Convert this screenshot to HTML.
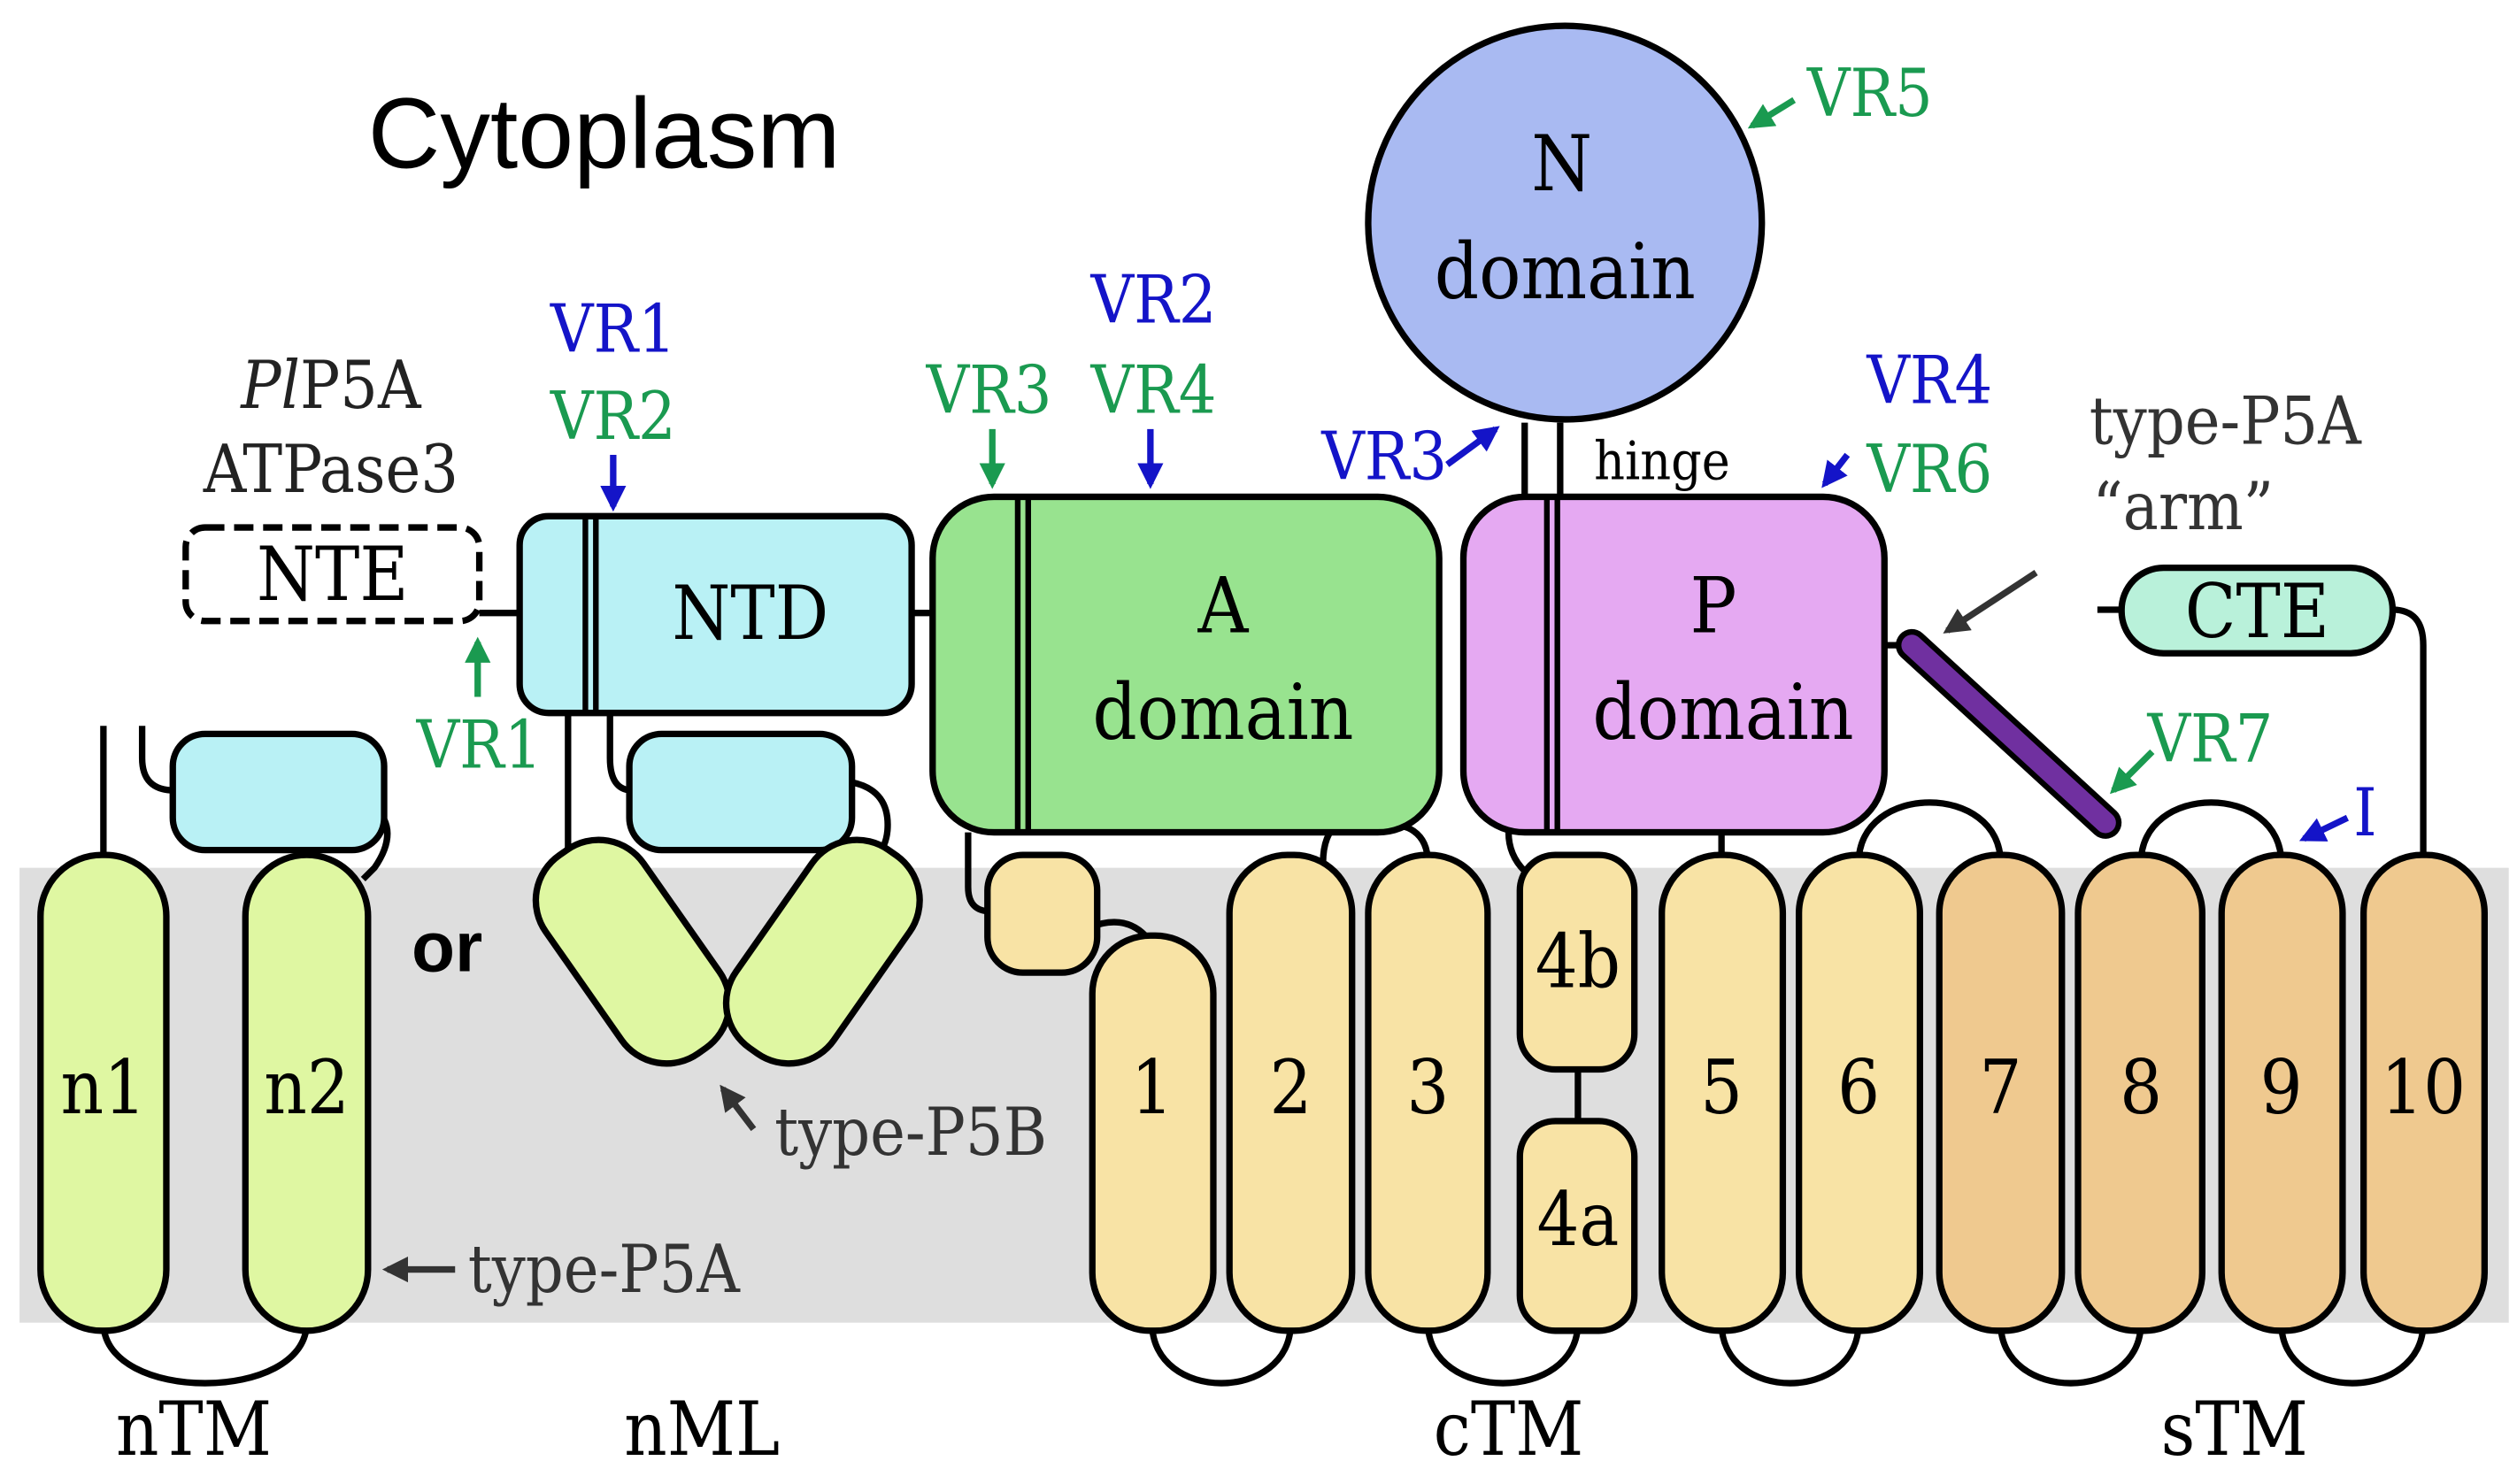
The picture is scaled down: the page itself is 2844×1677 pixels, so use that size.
<!DOCTYPE html>
<html><head><meta charset="utf-8"><style>
html,body{margin:0;padding:0;background:#fff;}
svg{display:block;}
.s{font-family:"DejaVu Serif Condensed","DejaVu Serif","Liberation Serif",serif;}
</style></head><body>
<svg width="2844" height="1677" viewBox="0 0 1560 920" xmlns="http://www.w3.org/2000/svg">
<defs>
<marker id="ab" viewBox="0 0 10 10" refX="8" refY="5" markerWidth="4" markerHeight="4" orient="auto"><path d="M0,0L10,5L0,10z" fill="#1414c8"/></marker>
<marker id="ag" viewBox="0 0 10 10" refX="8" refY="5" markerWidth="4" markerHeight="4" orient="auto"><path d="M0,0L10,5L0,10z" fill="#1a9a50"/></marker>
<marker id="ak" viewBox="0 0 10 10" refX="8" refY="5" markerWidth="4" markerHeight="4" orient="auto"><path d="M0,0L10,5L0,10z" fill="#333"/></marker>
</defs>
<rect x="12" y="538" width="1543" height="282" fill="#dedede"/>
<text x="228" y="104" font-family="Liberation Sans,sans-serif" font-size="62">Cytoplasm</text>

<g stroke="#000" stroke-width="4" fill="none">
<path d="M64,820 C64,870 190,870 190,820"/>
<path d="M714,820 C714,870 800,870 800,820"/>
<path d="M885,820 C885,870 978,870 978,820"/>
<path d="M1067,820 C1067,870 1152,870 1152,820"/>
<path d="M1240,820 C1240,870 1327,870 1327,820"/>
<path d="M1414,820 C1414,870 1502,870 1502,820"/>
<path d="M1152,535 C1152,485 1240,485 1240,535"/>
<path d="M1327,535 C1327,485 1414,485 1414,535"/>
<path d="M820,535 C820,510 835,505 840,515"/>
<path d="M885,535 C885,515 870,510 860,512"/>
<path d="M1067,535 L1067,512"/>
<path d="M64,530 L64,450"/>
<path d="M88,450 L88,470 Q88,490 108,490"/>
<path d="M232,500 Q248,515 232,538 L225,545"/>
<path d="M352,442 L352,545"/>
<path d="M378,442 L378,470 Q378,490 392,490"/>
<path d="M528,485 Q552,490 550,515 Q548,535 528,535"/>
<path d="M600,516 L600,550 Q600,565 614,565"/>
<path d="M675,575 Q700,565 714,585"/>
<path d="M935,516 Q935,530 945,540"/>
<path d="M978,663 L978,695"/>
<path d="M297,380 L322,380"/>
<path d="M565,380 L578,380"/>
<path d="M945,262 L945,310"/>
<path d="M967,262 L967,310"/>
<path d="M1168,400 L1185,400"/>
<path d="M1300,378 L1315,378"/>
<path d="M1483,378 Q1502,378 1502,400 L1502,532"/>
</g>

<g stroke="#000" stroke-width="4">
<rect x="25" y="530" width="78" height="295" rx="38" fill="#dff7a2"/>
<rect x="152" y="530" width="76" height="295" rx="38" fill="#dff7a2"/>
<rect x="107" y="455" width="131" height="72" rx="20" fill="#b9f1f5"/>
<rect x="115" y="327" width="182" height="58" rx="12" fill="#fff" stroke-dasharray="12,6"/>
<rect x="322" y="320" width="243" height="122" rx="18" fill="#b9f1f5"/>
<line x1="366" y1="320" x2="366" y2="442" stroke-width="10"/>
<line x1="366" y1="322" x2="366" y2="440" stroke="#b9f1f5" stroke-width="3"/>
<rect x="390" y="455" width="138" height="72" rx="20" fill="#b9f1f5"/>
<rect x="-37" y="-75" width="74" height="150" rx="34" fill="#dff7a2" transform="translate(392,590) rotate(-35)"/>
<rect x="-37" y="-75" width="74" height="150" rx="34" fill="#dff7a2" transform="translate(510,590) rotate(35)"/>
<rect x="578" y="308" width="314" height="208" rx="38" fill="#98e38f"/>
<line x1="634" y1="308" x2="634" y2="516" stroke-width="10"/>
<line x1="634" y1="310" x2="634" y2="514" stroke="#98e38f" stroke-width="3"/>
<rect x="907" y="308" width="261" height="208" rx="38" fill="#e5a9f2"/>
<line x1="962" y1="308" x2="962" y2="516" stroke-width="10"/>
<line x1="962" y1="310" x2="962" y2="514" stroke="#e5a9f2" stroke-width="3"/>
<circle cx="970" cy="138" r="122" fill="#a9baf2"/>
<line x1="1185" y1="400" x2="1305" y2="510" stroke-width="20" stroke-linecap="round"/>
<line x1="1185" y1="400" x2="1305" y2="510" stroke="#7030a0" stroke-width="13" stroke-linecap="round"/>
<rect x="1315" y="352" width="168" height="53" rx="26" fill="#b9f1da"/>
<rect x="612" y="530" width="68" height="73" rx="22" fill="#f8e3a5"/>
<rect x="677" y="580" width="75" height="245" rx="36" fill="#f8e3a5"/>
<rect x="762" y="530" width="76" height="295" rx="36" fill="#f8e3a5"/>
<rect x="848" y="530" width="74" height="295" rx="36" fill="#f8e3a5"/>
<rect x="942" y="530" width="71" height="133" rx="22" fill="#f8e3a5"/>
<rect x="942" y="695" width="71" height="130" rx="22" fill="#f8e3a5"/>
<rect x="1030" y="530" width="75" height="295" rx="36" fill="#f8e3a5"/>
<rect x="1115" y="530" width="75" height="295" rx="36" fill="#f8e3a5"/>
<rect x="1202" y="530" width="76" height="295" rx="36" fill="#efc98f"/>
<rect x="1288" y="530" width="77" height="295" rx="36" fill="#efc98f"/>
<rect x="1377" y="530" width="75" height="295" rx="36" fill="#efc98f"/>
<rect x="1465" y="530" width="75" height="295" rx="36" fill="#efc98f"/>
</g>

<g class="s" font-size="46" text-anchor="middle" fill="#000">
<text x="206" y="372">NTE</text>
<text x="465" y="396">NTD</text>
<text x="758" y="392" font-size="48">A</text>
<text x="758" y="458" font-size="48">domain</text>
<text x="1062" y="392" font-size="48">P</text>
<text x="1068" y="458" font-size="48">domain</text>
<text x="968" y="118" font-size="48">N</text>
<text x="970" y="185" font-size="48">domain</text>
<text x="1399" y="395">CTE</text>
<text x="64" y="690">n1</text>
<text x="190" y="690">n2</text>
<text x="714" y="690">1</text>
<text x="800" y="690">2</text>
<text x="885" y="690">3</text>
<text x="978" y="612">4b</text>
<text x="978" y="772">4a</text>
<text x="1067" y="690">5</text>
<text x="1152" y="690">6</text>
<text x="1240" y="690">7</text>
<text x="1327" y="690">8</text>
<text x="1414" y="690">9</text>
<text x="1502" y="690">10</text>
<text x="120" y="902">nTM</text>
<text x="435" y="902">nML</text>
<text x="935" y="902">cTM</text>
<text x="1385" y="902">sTM</text>
</g>
<text x="255" y="602" font-family="Liberation Sans,sans-serif" font-weight="bold" font-size="44">or</text>

<g class="s" font-size="41" text-anchor="middle">
<text x="205" y="253" fill="#222"><tspan font-style="italic">Pl</tspan>P5A</text>
<text x="205" y="305" fill="#222">ATPase3</text>
<text x="380" y="218" fill="#1414c8">VR1</text>
<text x="380" y="272" fill="#1a9a50">VR2</text>
<text x="297" y="476" fill="#1a9a50">VR1</text>
<text x="613" y="256" fill="#1a9a50">VR3</text>
<text x="715" y="200" fill="#1414c8">VR2</text>
<text x="715" y="256" fill="#1a9a50">VR4</text>
<text x="858" y="297" fill="#1414c8">VR3</text>
<text x="1196" y="250" fill="#1414c8">VR4</text>
<text x="1196" y="305" fill="#1a9a50">VR6</text>
<text x="1159" y="72" fill="#1a9a50">VR5</text>
<text x="1370" y="472" fill="#1a9a50">VR7</text>
<text x="1466" y="518" fill="#1414c8">I</text>
<text x="1295" y="275" fill="#333" text-anchor="start">type-P5A</text>
<text x="1297" y="328" fill="#333" text-anchor="start">“arm”</text>
<text x="480" y="716" fill="#333" text-anchor="start">type-P5B</text>
<text x="290" y="801" fill="#333" text-anchor="start">type-P5A</text>
<text x="988" y="297" font-size="33" fill="#000" text-anchor="start">hinge</text>
</g>

<g stroke-width="4" fill="none">
<line x1="380" y1="282" x2="380" y2="314" stroke="#1414c8" marker-end="url(#ab)"/>
<line x1="296" y1="432" x2="296" y2="398" stroke="#1a9a50" marker-end="url(#ag)"/>
<line x1="615" y1="266" x2="615" y2="300" stroke="#1a9a50" marker-end="url(#ag)"/>
<line x1="713" y1="266" x2="713" y2="300" stroke="#1414c8" marker-end="url(#ab)"/>
<line x1="897" y1="288" x2="927" y2="266" stroke="#1414c8" marker-end="url(#ab)"/>
<line x1="1145" y1="282" x2="1131" y2="300" stroke="#1414c8" marker-end="url(#ab)"/>
<line x1="1112" y1="62" x2="1086" y2="78" stroke="#1a9a50" marker-end="url(#ag)"/>
<line x1="1334" y1="466" x2="1310" y2="490" stroke="#1a9a50" marker-end="url(#ag)"/>
<line x1="1455" y1="507" x2="1428" y2="520" stroke="#1414c8" marker-end="url(#ab)"/>
<line x1="1262" y1="355" x2="1207" y2="391" stroke="#333" marker-end="url(#ak)"/>
<line x1="467" y1="700" x2="448" y2="675" stroke="#333" marker-end="url(#ak)"/>
<line x1="282" y1="787" x2="240" y2="787" stroke="#333" marker-end="url(#ak)"/>
</g>
</svg>
</body></html>
